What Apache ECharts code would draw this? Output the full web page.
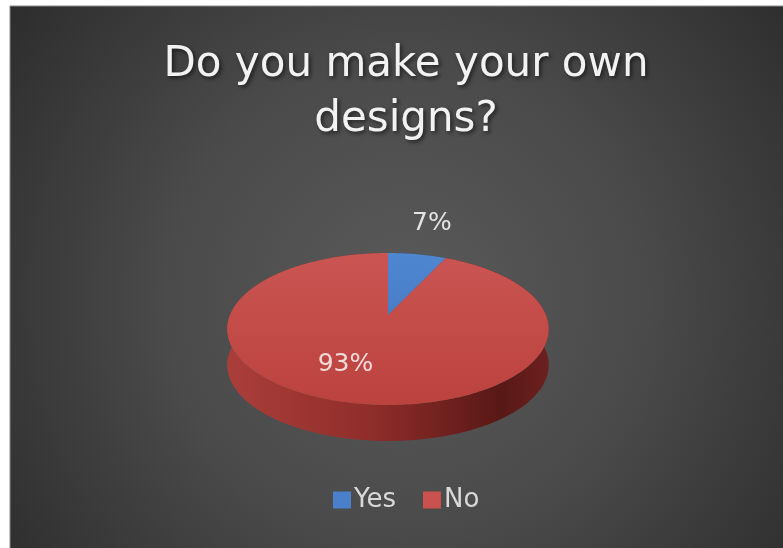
<!DOCTYPE html>
<html>
<head>
<meta charset="utf-8">
<style>
  html, body { margin: 0; padding: 0; background: #ffffff; }
  #chart { width: 783px; height: 548px; }
</style>
<script src="https://cdn.jsdelivr.net/npm/echarts@6/dist/echarts.min.js"></script>
</head>
<body>
<div id="chart"></div>
<script>
// Survey answers
const categories = ['Yes', 'No'];
const shares = [7, 93];

// Slice styling
const topColors = [['#4f86d0', '#3f74bd'], ['#ca5552', '#bc423e']];
const legendColors = ['#4a7fc9', '#c9514e'];
const labelColors = ['#e4e4e4', '#f3dcdb'];
// Label placement per slice: radius factor and angle shift from the slice middle
const labelPlace = [{ r: 1.65, shift: 0 }, { r: 0.65, shift: 9 }];

// Tilted-disc geometry (perspective view of a flat cylinder)
const PIE = { cx: 388, cy: 315, R: 158, Ry: 73.4, k: 0.184, depth: 36 };

function project(r, deg) {
  const t = deg * Math.PI / 180;
  const u = r * Math.sin(t);
  const v = -r * Math.cos(t);
  const s = 1 / (1 - PIE.k * v);
  return [PIE.cx + PIE.R * u * s, PIE.cy + PIE.Ry * v * s];
}

function arc(a0, a1, dy) {
  const pts = [];
  const n = Math.max(2, Math.ceil(Math.abs(a1 - a0)));
  for (let i = 0; i <= n; i++) {
    const p = project(1, a0 + (a1 - a0) * i / n);
    pts.push([p[0], p[1] + dy]);
  }
  return pts;
}

const total = shares.reduce((a, b) => a + b, 0);

function makeRender(idx) {
  return function (params, api) {
    const value = api.value(0);
    let before = 0;
    for (let i = 0; i < idx; i++) before += shares[i];
    const a0 = before / total * 360;
    const a1 = (before + value) / total * 360;

    const topArc = arc(a0, a1, 0);
    const botArc = arc(a0, a1, PIE.depth).reverse();
    const wall = topArc.concat(botArc);
    const face = [[PIE.cx, PIE.cy]].concat(topArc);

    const mid = (a0 + a1) / 2 + labelPlace[idx].shift;
    const lp = project(labelPlace[idx].r, mid);
    const pct = Math.round(value / total * 100) + '%';

    const wallFill = idx === 0
      ? new echarts.graphic.LinearGradient(227, 0, 549, 0, [
          { offset: 0, color: '#30609c' }, { offset: 1, color: '#1d3f6b' }], true)
      : new echarts.graphic.LinearGradient(227, 0, 549, 0, [
          { offset: 0, color: '#ab3e3a' },
          { offset: 0.45, color: '#8f2d2a' },
          { offset: 0.85, color: '#581816' },
          { offset: 1, color: '#6c211f' }], true);

    const faceFill = new echarts.graphic.LinearGradient(0, 253, 0, 405, [
      { offset: 0, color: topColors[idx][0] },
      { offset: 1, color: topColors[idx][1] }], true);

    return {
      type: 'group',
      children: [
        { type: 'polygon', z2: 1, shape: { points: wall }, style: { fill: wallFill } },
        { type: 'polygon', z2: 5, shape: { points: face }, style: { fill: faceFill } },
        {
          type: 'text', z2: 10, x: lp[0], y: lp[1],
          style: {
            text: pct, fill: labelColors[idx],
            fontFamily: 'DejaVu Sans', fontSize: 25,
            align: 'center', verticalAlign: 'middle'
          }
        }
      ]
    };
  };
}

const chart = echarts.init(document.getElementById('chart'), null, { renderer: 'canvas' });

chart.setOption({
  backgroundColor: '#ffffff',
  animation: false,
  graphic: [{
    type: 'rect', z: -10, silent: true,
    shape: { x: 10, y: 6, width: 790, height: 560 },
    style: {
      fill: new echarts.graphic.RadialGradient(0.5, 0.52, 0.95, [
        { offset: 0, color: '#5a5a5a' },
        { offset: 0.45, color: '#4a4a4a' },
        { offset: 1, color: '#282828' }]),
      stroke: '#8a8a8a', lineWidth: 1
    }
  }],
  title: {
    text: 'Do you make your own\ndesigns?',
    left: 401, top: 33, textAlign: 'center',
    textStyle: {
      color: '#f2f2f2', fontFamily: 'DejaVu Sans', fontWeight: 'normal',
      fontSize: 42, lineHeight: 55,
      textShadowColor: 'rgba(0,0,0,0.6)', textShadowBlur: 4,
      textShadowOffsetX: 2, textShadowOffsetY: 2
    }
  },
  legend: {
    data: categories,
    left: 328, top: 482,
    icon: 'rect', itemWidth: 18, itemHeight: 17, itemGap: 27,
    textStyle: { color: '#d9d9d9', fontFamily: 'DejaVu Sans', fontSize: 26, padding: [0, 0, 0, -2] }
  },
  series: categories.map((name, i) => ({
    type: 'custom',
    name: name,
    coordinateSystem: 'none',
    itemStyle: { color: legendColors[i] },
    data: [[shares[i]]],
    renderItem: makeRender(i)
  }))
});
</script>
</body>
</html>
